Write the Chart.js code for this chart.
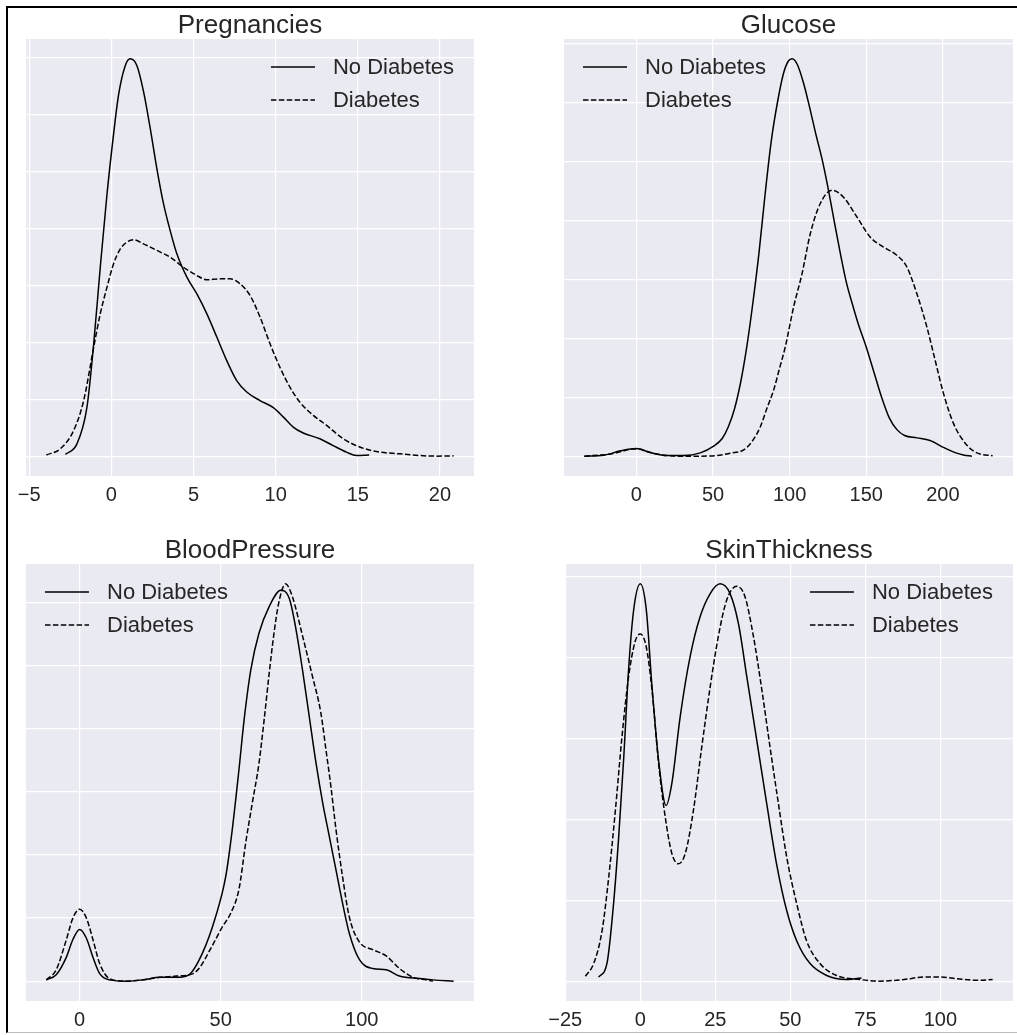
<!DOCTYPE html>
<html><head><meta charset="utf-8">
<script src="https://cdn.jsdelivr.net/npm/chart.js@4.4.0/dist/chart.umd.min.js"></script>
<style>
html,body{margin:0;padding:0;background:#fff;}
body{width:1017px;height:1035px;position:relative;overflow:hidden;}
canvas{position:absolute;display:block;}
.frame{position:absolute;left:6px;top:6px;width:1011px;height:1027px;border-top:2px solid #000;border-left:2px solid #000;border-bottom:1px solid #bdbdbd;box-sizing:border-box;pointer-events:none;}
</style></head>
<body>
<canvas id="c1" width="508" height="517" style="left:0;top:0"></canvas>
<canvas id="c2" width="509" height="517" style="left:508px;top:0"></canvas>
<canvas id="c3" width="508" height="518" style="left:0;top:517px"></canvas>
<canvas id="c4" width="509" height="518" style="left:508px;top:517px"></canvas>
<div class="frame"></div>
<script>
// ---------- DATA ----------
const seriesLabels = ['No Diabetes', 'Diabetes'];
const titles = ['Pregnancies', 'Glucose', 'BloodPressure', 'SkinThickness'];

// Pregnancies
const pregXTicks = [-5, 0, 5, 10, 15, 20];
const pregYGrid = [0, 0.02, 0.04, 0.06, 0.08, 0.10, 0.12, 0.14];
const pregNoX = [-2.79,-2.09,-1.48,-1.07,-0.67,-0.26,0.14,0.45,0.85,1.15,1.56,1.96,2.37,2.77,3.18,3.58,3.99,4.6,5.2,5.81,6.42,7.02,7.63,8.24,9.05,9.86,10.47,11.07,11.68,12.69,13.5,14.31,14.92,15.69];
const pregNoY = [0.0006,0.0043,0.0172,0.0394,0.0663,0.092,0.113,0.127,0.137,0.1394,0.137,0.128,0.115,0.101,0.0885,0.0792,0.071,0.0628,0.057,0.050,0.0418,0.0336,0.0265,0.0225,0.0195,0.017,0.0137,0.0102,0.0081,0.0061,0.0037,0.0014,0.0002,0.0004];
const pregDiX = [-3.95,-3.1,-2.29,-1.68,-1.07,-0.67,-0.26,0.14,0.55,0.95,1.36,1.96,2.77,3.58,4.39,5.2,5.81,6.62,7.23,7.83,8.44,9.05,9.66,10.26,10.87,11.48,12.29,13.1,14.11,15.12,16.13,17.55,18.77,19.78,20.83];
const pregDiY = [0.0004,0.0026,0.009,0.0195,0.0382,0.050,0.0593,0.0675,0.0727,0.0751,0.0759,0.0745,0.0722,0.0698,0.0663,0.0634,0.0619,0.0622,0.0622,0.0605,0.0564,0.0488,0.0394,0.0312,0.0242,0.0189,0.0143,0.0108,0.0061,0.0032,0.0016,0.0008,0.0002,0,0.0001];

// Glucose
const gluXTicks = [0, 50, 100, 150, 200];
const gluYGrid = [0, 0.002, 0.004, 0.006, 0.008, 0.010, 0.012, 0.014];
const gluNoX = [-33.9,-21.3,-10.4,0,9.1,20,30.9,41.7,50.4,56,60,64,68,72,76,80,84,88,92,96,99,101.6,105,109,113,117,121,125,129,133,137,141,145,150,155,160,165,170,175,183,191.6,200.3,208,213.3,218.9];
const gluNoY = [0,0.00003,0.00018,0.00026,0.00012,0.00002,0.00002,0.00011,0.00034,0.0006,0.001,0.0016,0.0025,0.0037,0.0052,0.0069,0.0089,0.0107,0.012,0.0130,0.0134,0.01349,0.0133,0.01268,0.01185,0.01095,0.01012,0.00912,0.008,0.0069,0.0059,0.00515,0.00445,0.0037,0.00285,0.002,0.0013,0.0009,0.0007,0.00062,0.00053,0.0003,0.00012,0.00004,0];
const gluDiX = [-33.9,-17,0,11.3,26.5,39.6,52.6,61.4,70,75.5,80.9,85,89.6,93.5,97.2,102.6,108.1,113.5,120,127.6,135,143.9,152.5,161.2,169.9,176.4,182.9,189.5,194.9,200.3,206.8,215.5,222.2,232.4];
const gluDiY = [0,0.00007,0.00025,0.00009,0,0,0.00002,0.0001,0.00021,0.0005,0.001,0.0016,0.00225,0.003,0.00372,0.00507,0.0062,0.00756,0.00858,0.00903,0.0088,0.00812,0.00744,0.0071,0.00682,0.00643,0.00553,0.00439,0.00326,0.00214,0.00112,0.00038,0.00011,0.00001];

// BloodPressure
const bpXTicks = [0, 50, 100];
const bpYGrid = [0, 0.005, 0.010, 0.015, 0.020, 0.025, 0.030];
const bpNoX = [-11.8,-8.3,-4.7,-2.4,0,2.4,4.7,7.1,10.6,16.5,22.5,28.4,34.3,38.7,43.5,48.2,51.8,54.1,56.5,58.3,60.7,63.6,67.2,71.3,74.4,76.7,79,81.4,83.8,86.2,88.5,90.9,93.2,95.6,99.2,103.9,108.7,113.4,120.6,125.3,132.6];
const bpNoY = [0.0001,0.0005,0.0019,0.0033,0.0041,0.0034,0.0019,0.0006,0.0001,0,0.0001,0.0003,0.0003,0.0005,0.0022,0.0051,0.0083,0.012,0.0168,0.0207,0.0247,0.0276,0.0297,0.031,0.0303,0.0279,0.0247,0.021,0.0173,0.0141,0.0115,0.0088,0.0062,0.0038,0.0017,0.001,0.0009,0.0004,0.0002,0.0001,0];
const bpDiX = [-11.8,-8.3,-4.7,-2.4,0,2.4,4.7,7.1,10.6,16.5,22.5,28.4,34.3,40.2,42.3,47,50.6,53.6,56.5,58.9,61.2,63.6,65.4,67.1,68.8,70.6,73,75.4,79,82.5,85.5,87.3,89.1,90.9,93.2,95.6,99.2,103.9,108.7,113.4,118.2,122.9,125.3];
const bpDiY = [0.0001,0.0009,0.0033,0.005,0.0057,0.005,0.0033,0.0014,0.0002,0,0.0001,0.0003,0.0004,0.0006,0.001,0.0028,0.0043,0.0054,0.0073,0.011,0.0141,0.0173,0.0207,0.0242,0.0274,0.03,0.0315,0.0305,0.0274,0.0242,0.0213,0.0184,0.0154,0.012,0.0083,0.0051,0.0031,0.0025,0.002,0.001,0.0003,0.0001,0];

// SkinThickness
const stXTicks = [-25, 0, 25, 50, 75, 100];
const stYGrid = [0, 0.01, 0.02, 0.03, 0.04, 0.05];
const stNoX = [-13.9,-11.1,-8.9,-7.2,-5.5,-3.9,-2.2,0,2,3.9,6.1,8.6,10.5,13.3,16.6,19.9,23.3,26.6,29.9,32.7,35.5,38.8,42.1,45.4,48.8,52.1,56.5,62.1,68.7,73.7];
const stNoY = [0.0005,0.0022,0.0096,0.0178,0.0277,0.0385,0.0459,0.0491,0.0459,0.0364,0.0273,0.0217,0.0244,0.0327,0.0401,0.045,0.0479,0.0491,0.0479,0.0442,0.0376,0.0298,0.022,0.0145,0.0087,0.005,0.0022,0.0007,0.0002,0.0004];
const stDiX = [-18.3,-15.5,-12.7,-10.5,-8.3,-6.1,-3.9,-1.7,0,2,3.9,6.1,8.3,10.5,12.7,15,17.7,20.5,23.3,26,28.8,32.1,34.9,37.7,40.5,43.2,46,48.8,52.1,55.4,59.8,65.4,73.1,79.8,87.8,94.4,100,105.6,112.2,117.4];
const stDiY = [0.0006,0.0022,0.0063,0.0129,0.0211,0.0302,0.0376,0.042,0.0429,0.0413,0.036,0.0269,0.0203,0.0158,0.0145,0.0158,0.0211,0.029,0.0364,0.0426,0.0471,0.0488,0.0475,0.0426,0.036,0.029,0.022,0.0153,0.0096,0.005,0.0022,0.0007,0.0002,0,0.0002,0.0005,0.0005,0.0003,0.0001,0.0002];

// ---------- RENDER ----------
const FONT = '"Liberation Sans", Arial, "DejaVu Sans", sans-serif';
const TEXT = '#262626';
const BG = '#EAEAF2';

const zip = (xs, ys) => xs.map((x, i) => ({x, y: ys[i]}));
const fmt = v => (v < 0 ? '\u2212' + Math.abs(v) : String(v));

const sbPlugin = {
  id: 'sb',
  beforeDraw(chart, args, opts) {
    const a = chart.chartArea, ctx = chart.ctx;
    ctx.save();
    ctx.fillStyle = BG;
    ctx.fillRect(a.left, a.top, a.right - a.left, a.bottom - a.top);
    ctx.restore();
  },
  afterDraw(chart, args, opts) {
    const a = chart.chartArea, ctx = chart.ctx;
    ctx.save();
    // title
    ctx.fillStyle = TEXT;
    ctx.font = '26px ' + FONT;
    ctx.textAlign = 'center';
    ctx.textBaseline = 'alphabetic';
    ctx.fillText(opts.title, (a.left + a.right) / 2, a.top - 6);
    // legend
    ctx.font = '22px ' + FONT;
    const ds = chart.data.datasets;
    const tw = Math.max(...ds.map(d => ctx.measureText(d.label).width));
    const lineLen = 44, gap = 18;
    const x0 = opts.side === 'right' ? a.right - 20 - tw - gap - lineLen : a.left + 19;
    ds.forEach((d, i) => {
      const y = a.top + 28 + i * 33;
      ctx.beginPath();
      ctx.setLineDash(d.borderDash || []);
      ctx.strokeStyle = d.borderColor;
      ctx.lineWidth = d.borderWidth;
      ctx.moveTo(x0, y);
      ctx.lineTo(x0 + lineLen, y);
      ctx.stroke();
      ctx.setLineDash([]);
      ctx.fillStyle = TEXT;
      ctx.textAlign = 'left';
      ctx.textBaseline = 'middle';
      ctx.fillText(d.label, x0 + lineLen + gap, y + 1);
    });
    ctx.restore();
  }
};

function makeChart(id, title, side, xTicks, yGrid, noX, noY, diX, diY, pad, xH) {
  const allX = noX.concat(diX), allY = noY.concat(diY);
  const xmin = Math.min(...allX), xmax = Math.max(...allX);
  const ymin = Math.min(0, ...allY), ymax = Math.max(...allY);
  const xm = 0.05 * (xmax - xmin), ym = 0.05 * (ymax - ymin);
  return new Chart(document.getElementById(id), {
    type: 'line',
    data: {
      datasets: [
        {label: seriesLabels[0], data: zip(noX, noY), borderColor: '#000', borderWidth: 1.5,
         pointRadius: 0, cubicInterpolationMode: 'monotone', fill: false},
        {label: seriesLabels[1], data: zip(diX, diY), borderColor: '#000', borderWidth: 1.5,
         borderDash: [5.5, 2.4], pointRadius: 0, cubicInterpolationMode: 'monotone', fill: false}
      ]
    },
    options: {
      responsive: false, animation: false, devicePixelRatio: 1,
      layout: {padding: {left: pad[0], right: pad[1], top: pad[2], bottom: 0}},
      plugins: {legend: {display: false}, title: {display: false}, tooltip: {enabled: false},
                sb: {title, side}},
      scales: {
        x: {
          type: 'linear', min: xmin - xm, max: xmax + xm,
          afterBuildTicks: s => { s.ticks = xTicks.map(v => ({value: v})); },
          afterFit: s => { s.height = xH; },
          grid: {color: '#ffffff', lineWidth: 1.2, drawTicks: false},
          border: {display: false},
          ticks: {font: {family: FONT, size: 20}, color: TEXT, padding: 7,
                  maxRotation: 0, autoSkip: false, callback: v => fmt(v)}
        },
        y: {
          type: 'linear', min: ymin - ym, max: ymax + ym,
          afterBuildTicks: s => { s.ticks = yGrid.map(v => ({value: v})); },
          afterFit: s => { s.width = 0; },
          grid: {color: '#ffffff', lineWidth: 1.2, drawTicks: false},
          border: {display: false},
          ticks: {display: false}
        }
      }
    },
    plugins: [sbPlugin]
  });
}

makeChart('c1', titles[0], 'right', pregXTicks, pregYGrid, pregNoX, pregNoY, pregDiX, pregDiY, [26, 34, 39], 41);
makeChart('c2', titles[1], 'left',  gluXTicks, gluYGrid, gluNoX, gluNoY, gluDiX, gluDiY, [56, 4, 39], 41);
makeChart('c3', titles[2], 'left',  bpXTicks, bpYGrid, bpNoX, bpNoY, bpDiX, bpDiY, [26, 34, 47], 34);
makeChart('c4', titles[3], 'right', stXTicks, stYGrid, stNoX, stNoY, stDiX, stDiY, [57, 4, 47], 34);
</script>
</body></html>
